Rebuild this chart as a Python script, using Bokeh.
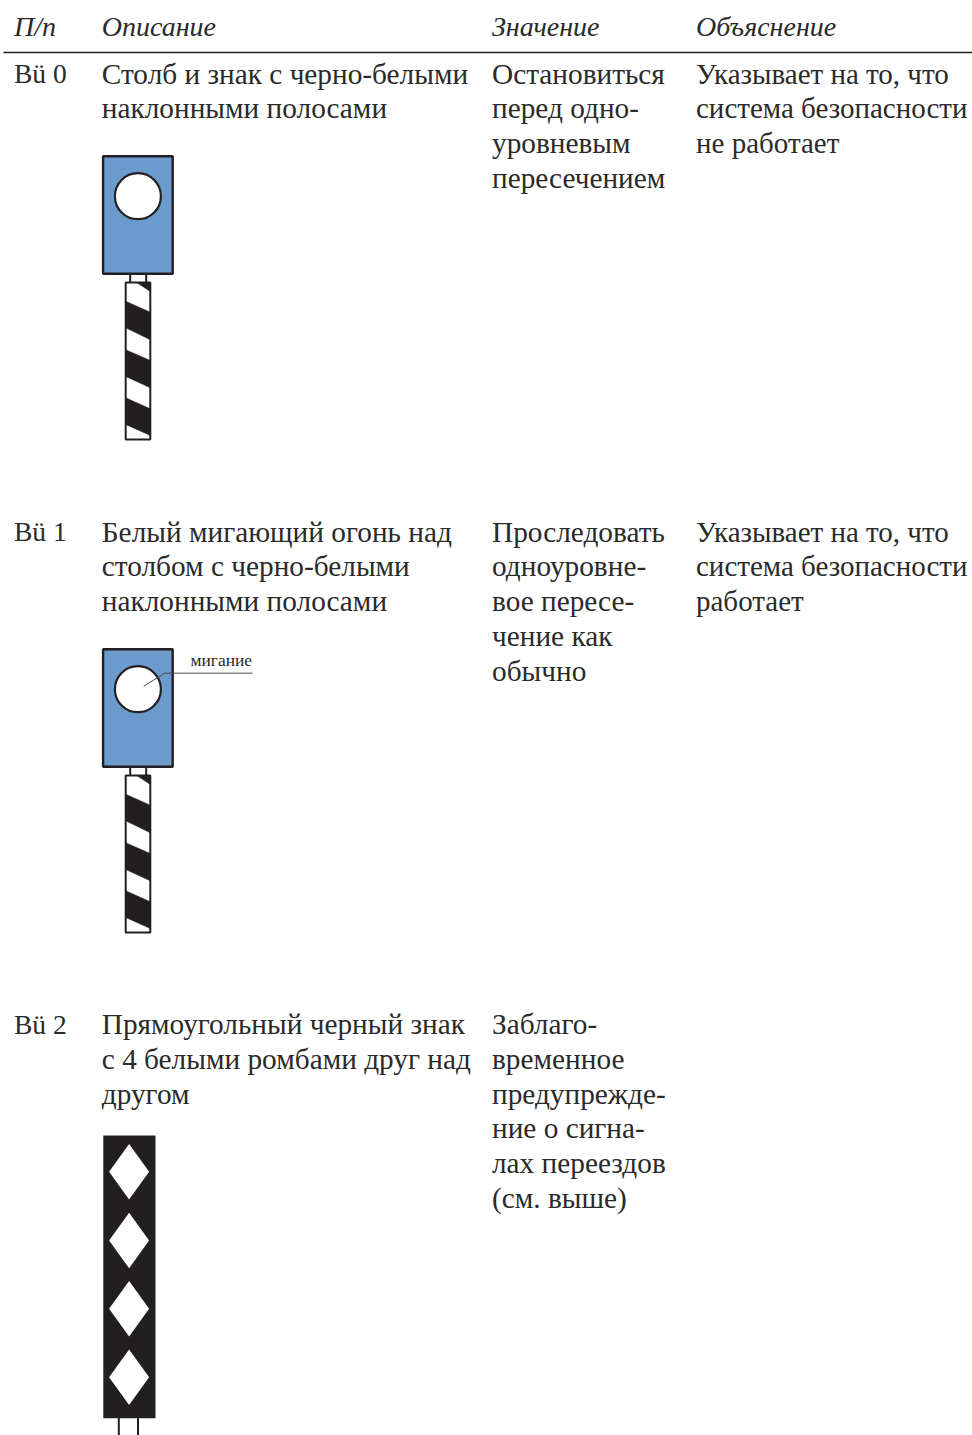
from bokeh.plotting import figure
from bokeh.models import Range1d
from bokeh.core.properties import value
from bokeh.embed import file_html
from bokeh.resources import INLINE

INK = "#231f20"
TEXT = "#2b2a2a"
BLUE = "#6b9bcd"
FONT = "Liberation Serif"
BODY_SIZE = "29.3px"

header_labels = ["П/п", "Описание", "Значение", "Объяснение"]
col_x = [13.5, 101.3, 491.5, 695.5]

row_ids = ["Вü 0", "Вü 1", "Вü 2"]
row_description = [
    ["Столб и знак с черно-белыми", "наклонными полосами"],
    ["Белый мигающий огонь над", "столбом с черно-белыми", "наклонными полосами"],
    ["Прямоугольный черный знак", "с 4 белыми ромбами друг над", "другом"],
]
row_meaning = [
    ["Остановиться", "перед одно-", "уровневым", "пересечением"],
    ["Проследовать", "одноуровне-", "вое пересе-", "чение как", "обычно"],
    ["Заблаго-", "временное", "предупрежде-", "ние о сигна-", "лах переездов", "(см. выше)"],
]
row_explanation = [
    ["Указывает на то, что", "система безопасности", "не работает"],
    ["Указывает на то, что", "система безопасности", "работает"],
    [],
]
row_baseline = [73, 531, 1023.5]
line_step = 34.8

# left/right edge offsets of the black stripes on the post, from the post top
stripe_left = [(18.7, 45.3), (67.3, 94), (115.3, 142)]
stripe_right = [(29.7, 57.3), (78, 105.3), (126.3, 153)]
sign_tops = [155.7, 648.7]
diamond_y = [1171.2, 1240, 1308.3, 1376.7]

p = figure(width=972, height=1435, margin=(0, 0, 0, 0), output_backend="svg",
           toolbar_location=None, x_range=Range1d(0, 972), y_range=Range1d(1435, 0),
           min_border=0, outline_line_color=None)
p.axis.visible = False
p.grid.visible = False


def put_text(x, y, lines, style="normal", size=BODY_SIZE):
    p.text([x] * len(lines), [y + i * line_step for i in range(len(lines))], text=lines,
           text_font=value(FONT), text_font_size=value(size), text_font_style=value(style),
           text_color=TEXT, text_baseline="alphabetic", text_align="left")


for x, lab in zip(col_x, header_labels):
    put_text(x, 26, [lab], style="italic", size="28px")
p.line([3, 972], [52, 52], line_color=INK, line_width=1.4)

for i, b in enumerate(row_baseline):
    put_text(col_x[0], b, [row_ids[i]], size="27.5px")
    put_text(col_x[1], b, row_description[i])
    put_text(col_x[2], b, row_meaning[i])
    if row_explanation[i]:
        put_text(col_x[3], b, row_explanation[i], size="29px")


def signal(top):
    # connector between sign and post
    p.quad(left=[129.7], right=[145.7], top=[top + 117], bottom=[top + 127], fill_color="white",
           line_color=INK, line_width=2)
    # post
    pt = top + 126.3
    xl, xr = 125.2, 149.8
    p.quad(left=[xl], right=[xr], top=[pt], bottom=[pt + 157], fill_color="white",
           line_color=INK, line_width=2)
    # black stripes
    xs = [[xl, xr, xr, xl] for _ in stripe_left]
    ys = [[pt + l0, pt + r0, pt + r1, pt + l1]
          for (l0, l1), (r0, r1) in zip(stripe_left, stripe_right)]
    p.patches(xs, ys, fill_color=INK, line_color=INK, line_width=0.5)
    # top corner
    p.patch([136.2, xr, xr], [pt, pt, pt + 9], fill_color=INK, line_color=INK, line_width=0.5)
    # sign plate and lamp
    p.quad(left=[102.6], right=[172.2], top=[top], bottom=[top + 117.6], fill_color=BLUE,
           line_color=INK, line_width=2.4)
    p.circle(x=[137.4], y=[top + 40], radius=23, fill_color="white", line_color=INK, line_width=2.2)


for t in sign_tops:
    signal(t)

# flash label
p.line([143.3, 164, 252], [685.7, 672.7, 672.7], line_color="#4a4a4a", line_width=1)
put_text(190, 659, ["мигание"], size="17.4px")

# advance warning board
p.quad(left=[102.8], right=[155], top=[1135], bottom=[1417.7], fill_color=INK, line_color=None)
for dy in diamond_y:
    p.patch([128.6, 148.6, 128.6, 108.6], [dy - 27.7, dy, dy + 27.7, dy], fill_color="white", line_color=None)
p.multi_line([[118.3, 118.3], [137.5, 137.5]], [[1417, 1435], [1417, 1435]], line_color=INK, line_width=2)

open("out.html", "w").write(file_html(p, INLINE))
